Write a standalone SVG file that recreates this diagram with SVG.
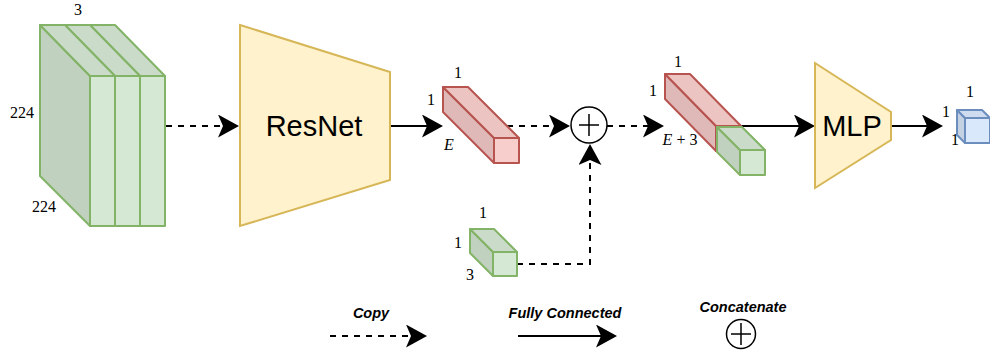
<svg xmlns="http://www.w3.org/2000/svg" width="990" height="358" viewBox="0 0 990 358">
  <style>
    .g { stroke: #82b366; stroke-width: 2; stroke-linejoin: round; }
    .g-front { fill: #d5e8d4; }
    .g-top { fill: #cadcc9; }
    .g-side { fill: #c0d1bf; }
    .r { stroke: #b85450; stroke-width: 2; stroke-linejoin: round; }
    .r-front { fill: #f8cecc; }
    .r-top { fill: #ecc4c2; }
    .r-side { fill: #dfb9b8; }
    .b { stroke: #6c8ebf; stroke-width: 2; stroke-linejoin: round; }
    .b-front { fill: #dae8fc; }
    .b-top { fill: #cfdcf0; }
    .b-side { fill: #c4d1e3; }
    .trap { fill: #fff2cc; stroke: #d6b656; stroke-width: 2; }
    .big { font-family: "Liberation Sans", Arial, sans-serif; font-size: 29px; fill: #000; text-anchor: middle; }
    .dim { font-family: "Liberation Serif", "Times New Roman", serif; font-size: 16px; fill: #000; text-anchor: middle; }
    .leg { font-family: "Liberation Sans", Arial, sans-serif; font-size: 14.5px; font-weight: bold; font-style: italic; fill: #000; text-anchor: middle; }
    .edge { fill: none; stroke: #000; stroke-width: 2; }
    .dash { stroke-dasharray: 6 6; }
    .sum { fill: #fff; stroke: #000; stroke-width: 1.5; }
    .plus { stroke: #000; stroke-width: 1.5; }
  </style>
  <defs>
    <marker id="arrow" markerUnits="userSpaceOnUse" markerWidth="22" markerHeight="24" refX="5" refY="11.5" orient="auto">
      <path d="M0,0 L21,11.5 L0,23 L5,11.5 Z" fill="#000"/>
    </marker>
  </defs>

  <!-- connectors -->
  <g id="connectors">
    <path class="edge dash" d="M166,126 H223" marker-end="url(#arrow)"/>
    <path class="edge" d="M390,126 H427" marker-end="url(#arrow)"/>
    <path class="edge dash" d="M507,126 H554" marker-end="url(#arrow)"/>
    <path class="edge dash" d="M607,126 H648" marker-end="url(#arrow)"/>
    <path class="edge" d="M741,126 H799" marker-end="url(#arrow)"/>
    <path class="edge" d="M891,126 H927" marker-end="url(#arrow)"/>
    <path class="edge dash" d="M517,264 H590 V160" marker-end="url(#arrow)"/>
  </g>

  <!-- input image tensor: three channel slabs -->
  <g id="input">
    <polygon class="g g-side" points="90,25 140,76 140,226 90,176"/>
    <polygon class="g g-top" points="90,25 115,25 165,76 140,76"/>
    <rect class="g g-front" x="140" y="76" width="25" height="150"/>
    <polygon class="g g-side" points="65,25 115,76 115,226 65,176"/>
    <polygon class="g g-top" points="65,25 90,25 140,76 115,76"/>
    <rect class="g g-front" x="115" y="76" width="25" height="150"/>
    <polygon class="g g-side" points="40,25 90,76 90,226 40,176"/>
    <polygon class="g g-top" points="40,25 65,25 115,76 90,76"/>
    <rect class="g g-front" x="90" y="76" width="25" height="150"/>
    <text class="dim" x="78" y="15">3</text>
    <text class="dim" x="22" y="118">224</text>
    <text class="dim" x="44" y="212">224</text>
  </g>

  <g id="resnet">
    <polygon class="trap" points="240,25 390,72 390,180 240,226"/>
    <text class="big" x="314" y="136">ResNet</text>
  </g>

  <g id="embedding">
    <polygon class="r r-side" points="443,87 494,138 494,163 443,112"/>
    <polygon class="r r-top" points="443,87 468,87 519,138 494,138"/>
    <rect class="r r-front" x="494" y="138" width="25" height="25"/>
    <text class="dim" x="458" y="78">1</text>
    <text class="dim" x="431" y="105">1</text>
    <text class="dim" x="449" y="150" font-style="italic">E</text>
  </g>

  <g id="extra">
    <polygon class="g g-side" points="470,229 493,252 493,276 470,253"/>
    <polygon class="g g-top" points="470,229 494,229 517,252 493,252"/>
    <rect class="g g-front" x="493" y="252" width="24" height="24"/>
    <text class="dim" x="483" y="218">1</text>
    <text class="dim" x="458" y="248">1</text>
    <text class="dim" x="470" y="280">3</text>
  </g>

  <g id="concat">
    <circle class="sum" cx="589" cy="125" r="18"/>
    <path class="plus" d="M579,125 H599 M589,114 V136"/>
  </g>

  <g id="joined">
    <polygon class="r r-side" points="665,74 716,126 716,151 665,99"/>
    <polygon class="r r-top" points="665,74 690,74 741,126 716,126"/>
    <rect class="r r-front" x="716" y="126" width="25" height="25"/>
    <polygon class="g g-side" points="717,127 740,150 740,175 717,152"/>
    <polygon class="g g-top" points="717,127 742,127 765,150 740,150"/>
    <rect class="g g-front" x="740" y="150" width="25" height="25"/>
    <text class="dim" x="678" y="67">1</text>
    <text class="dim" x="653" y="96">1</text>
    <text class="dim" x="680" y="145"><tspan font-style="italic">E</tspan> + 3</text>
  </g>

  <g id="mlp">
    <polygon class="trap" points="815,63 891,112 891,140 815,188"/>
    <text class="big" x="852" y="136">MLP</text>
  </g>

  <g id="output">
    <polygon class="b b-side" points="957,110 965,118 965,143 957,135"/>
    <polygon class="b b-top" points="957,110 982,110 990,118 965,118"/>
    <rect class="b b-front" x="965" y="118" width="25" height="25"/>
    <text class="dim" x="970" y="97" font-size="15">1</text>
    <text class="dim" x="946" y="117" font-size="15">1</text>
    <text class="dim" x="955" y="145" font-size="15">1</text>
  </g>

  <!-- legend -->
  <g id="legend-copy">
    <text class="leg" x="371" y="318">Copy</text>
    <path class="edge dash" d="M330,336 H411" marker-end="url(#arrow)"/>
  </g>
  <g id="legend-fc">
    <text class="leg" x="565" y="318">Fully Connected</text>
    <path class="edge" d="M518,336 H601" marker-end="url(#arrow)"/>
  </g>
  <g id="legend-concat">
    <text class="leg" x="743" y="312">Concatenate</text>
    <circle class="sum" cx="741" cy="334" r="14.5"/>
    <path class="plus" d="M731,334 H751 M741,323 V345"/>
  </g>
</svg>
